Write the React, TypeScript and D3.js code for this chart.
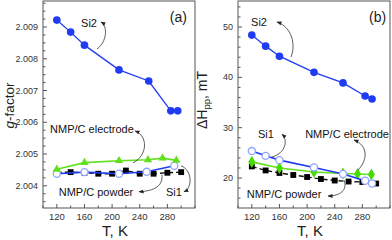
import * as d3 from 'd3';

const W = 392;
const H = 240;
const TOP = 1;
const BOTTOM = 208;
const FONT = 'Liberation Sans, Arial, sans-serif';

// temperature axis (both panels)
const tDomain = [100, 320];
const tMajor = [120, 160, 200, 240, 280];

// panel (a): g-factor
const si2T_a = [120, 140, 160, 210, 253, 285, 295];
const si2G = [2.00922, 2.00884, 2.00843, 2.00765, 2.0073, 2.00636, 2.00636];
const si1T_a = [120, 160, 210, 250, 290];
const si1G = [2.00438, 2.00443, 2.00438, 2.00444, 2.00463];
const elecT = [120, 160, 210, 252, 273, 293];
const elecG = [2.00452, 2.00473, 2.00479, 2.00482, 2.00487, 2.0048];
const powdT = [120, 140, 160, 180, 200, 220, 240, 260, 280, 300];
const powdG = [2.00442, 2.00443, 2.00441, 2.00438, 2.00438, 2.00448, 2.00438, 2.00438, 2.00441, 2.00443];
const gMajor = [2.004, 2.005, 2.006, 2.007, 2.008, 2.009];

// panel (b): ΔHpp, mT
const si2T_b = [120, 140, 160, 210, 252, 284, 294];
const si2H = [48.4, 46.2, 44.2, 41.0, 38.9, 36.3, 35.7];
const si1T_b = [120, 140, 160, 210, 252, 284, 294];
const si1H = [25.35, 24.4, 23.55, 22.1, 20.8, 19.45, 18.9];
const elecH = [23.2, 22.0, 21.2, 20.9, 20.8, 20.7];
const powdH = [22.3, 21.5, 21.0, 20.6, 20.2, 19.8, 19.5, 19.3, 19.2, 18.9];
const hMajor = [20, 30, 40, 50];

type Pt = [number, number];
type Series = {
  t: number[];
  v: number[];
  color: string;
  dash?: string;
  lw: number;
  symbol: d3.SymbolType;
  size: number;
  fill: string;
  stroke: string;
};
type Note = { text: string; at: Pt; path: Pt[] };

const blue = '#1f3cf2';
const green = '#62e01e';

function series(t: number[], v: number[], kind: string): Series {
  if (kind === 'si2') return { t, v, color: blue, lw: 1.3, symbol: d3.symbolCircle, size: 46, fill: blue, stroke: 'none' };
  if (kind === 'si1') return { t, v, color: blue, lw: 1.6, symbol: d3.symbolCircle, size: 40, fill: '#fff', stroke: '#8ea4ff' };
  if (kind === 'elecA') return { t, v, color: green, lw: 1.6, symbol: d3.symbolTriangle, size: 30, fill: green, stroke: 'none' };
  if (kind === 'elecB') return { t, v, color: green, lw: 1.6, symbol: d3.symbolDiamond, size: 42, fill: '#44dd00', stroke: 'none' };
  return { t, v, color: '#111', lw: 1.4, dash: '5,3', symbol: d3.symbolSquare, size: 34, fill: '#000', stroke: 'none' };
}

const seriesA = [
  series(powdT, powdG, 'powd'),
  series(si1T_a, si1G, 'si1'),
  series(elecT, elecG, 'elecA'),
  series(si2T_a, si2G, 'si2'),
];
const seriesB = [
  series(powdT, powdH, 'powd'),
  series(elecT, elecH, 'elecB'),
  series(si1T_b, si1H, 'si1'),
  series(si2T_b, si2H, 'si2'),
];

const notesA: Note[] = [
  { text: 'Si2', at: [166.6, 2.00913], path: [[178.2, 2.00831], [192.6, 2.00853], [194.1, 2.00903], [183.9, 2.00916]] },
  { text: 'NMP/C electrode', at: [170.9, 2.00579], path: [[230.3, 2.00472], [252, 2.00497], [252, 2.00557], [233.2, 2.00573]] },
  { text: 'NMP/C powder', at: [176.7, 2.00381], path: [[272.2, 2.00435], [273.7, 2.004], [262.1, 2.00384], [239, 2.00381]] },
  { text: 'Si1', at: [289.6, 2.00381], path: [[299.7, 2.00463], [315.7, 2.0045], [317.1, 2.00394], [304.1, 2.00381]] },
];
const notesB: Note[] = [
  { text: 'Si2', at: [130.4, 51], path: [[176.7, 44.04], [183.9, 46.42], [178.2, 50], [156.4, 51]] },
  { text: 'Si1', at: [140.5, 28.74], path: [[149.2, 24.17], [169.5, 24.96], [172.4, 27.55], [163.7, 28.74]] },
  { text: 'NMP/C electrode', at: [257.8, 28.74], path: [[273.7, 21.58], [288.2, 23.57], [288.2, 26.55], [267.9, 27.55]] },
  { text: 'NMP/C powder', at: [166.6, 16.82], path: [[253.4, 19.6], [259.2, 17.61], [247.6, 16.42], [230.3, 16.42]] },
];

type PanelProps = {
  x0: number;
  x1: number;
  yDomain: number[];
  yMajor: number[];
  yMinor: number;
  fmt: (v: number) => string;
  tag: string;
  tagAt: Pt;
  data: Series[];
  notes: Note[];
};

function Panel({ x0, x1, yDomain, yMajor, yMinor, fmt, tag, tagAt, data, notes }: PanelProps) {
  const x = d3.scaleLinear(tDomain, [x0, x1]);
  const y = d3.scaleLinear(yDomain, [BOTTOM, TOP]);
  const xMinor = d3.range(tDomain[0], tDomain[1] + 0.1, 20);
  const yMin = d3.range(Math.ceil(yDomain[0] / yMinor) * yMinor, yDomain[1], yMinor);
  const axisColor = '#555';

  return (
    <g>
      <rect x={x0} y={TOP} width={x1 - x0} height={BOTTOM - TOP} fill="none" stroke={axisColor} strokeWidth={1} />
      {xMinor.map((t) => {
        const major = tMajor.includes(t);
        return <line key={'xm' + t} x1={x(t)} x2={x(t)} y1={BOTTOM} y2={BOTTOM - (major ? 4 : 2.5)} stroke={axisColor} />;
      })}
      {yMin.map((v, i) => {
        const major = yMajor.some((m) => Math.abs(m - v) < yMinor / 10);
        return <line key={'ym' + i} x1={x0} x2={x0 + (major ? 4 : 2.5)} y1={y(v)} y2={y(v)} stroke={axisColor} />;
      })}
      {tMajor.map((t) => (
        <text key={'xl' + t} x={x(t)} y={BOTTOM + 11.5} textAnchor="middle" fontSize={9.5} fill="#333" fontFamily={FONT}>{t}</text>
      ))}
      {yMajor.map((v) => (
        <text key={'yl' + v} x={x0 - 5} y={y(v)} dy="0.35em" textAnchor="end" fontSize={9} fill="#333" fontFamily={FONT}>{fmt(v)}</text>
      ))}
      <text x={(x0 + x1) / 2 - 4} y={BOTTOM + 28} textAnchor="middle" fontSize={15} fill="#222" fontFamily={FONT}>T, K</text>
      <text x={x(tagAt[0])} y={y(tagAt[1])} dy="0.35em" textAnchor="middle" fontSize={14} fill="#222" fontFamily={FONT}>{tag}</text>

      {data.map((s, k) => {
        const line = d3.line<number>((_, i) => x(s.t[i]), (d) => y(d));
        const sym = d3.symbol().type(s.symbol).size(s.size)();
        return (
          <g key={'s' + k}>
            <path d={line(s.v) ?? ''} fill="none" stroke={s.color} strokeWidth={s.lw} strokeDasharray={s.dash} />
            {s.v.map((v, i) => (
              <path key={i} d={sym ?? ''} transform={`translate(${x(s.t[i])},${y(v)})`} fill={s.fill} stroke={s.stroke} strokeWidth={1.3} />
            ))}
          </g>
        );
      })}

      {notes.map((n, k) => {
        const p = n.path.map(([t, v]) => `${x(t)},${y(v)}`);
        return (
          <g key={'n' + k}>
            <path d={`M${p[0]}C${p[1]} ${p[2]} ${p[3]}`} fill="none" stroke="#333" strokeWidth={0.8} markerEnd="url(#ah)" />
            <text x={x(n.at[0])} y={y(n.at[1])} dy="0.35em" textAnchor="middle" fontSize={11} fill="#111" fontFamily={FONT}>{n.text}</text>
          </g>
        );
      })}
    </g>
  );
}

export default function App() {
  return (
    <svg width={W} height={H} style={{ position: 'absolute', left: 0, top: 0, background: '#fff' }}>
      <defs>
        <marker id="ah" viewBox="0 0 10 10" refX={9} refY={5} markerWidth={5} markerHeight={5} markerUnits="userSpaceOnUse" orient="auto">
          <path d="M0,1 L10,5 L0,9 z" fill="#222" />
        </marker>
      </defs>
      <Panel
        x0={43}
        x1={195}
        yDomain={[2.0033, 2.00982]}
        yMajor={gMajor}
        yMinor={0.00025}
        fmt={d3.format('.3f')}
        tag="(a)"
        tagAt={[296, 2.00932]}
        data={seriesA}
        notes={notesA}
      />
      <Panel
        x0={238}
        x1={390}
        yDomain={[14.04, 55.17]}
        yMajor={hMajor}
        yMinor={2}
        fmt={d3.format('d')}
        tag="(b)"
        tagAt={[302, 51.99]}
        data={seriesB}
        notes={notesB}
      />
      <text transform="translate(13.5,105.5) rotate(-90)" textAnchor="middle" fontSize={13.5} fill="#222" fontFamily={FONT}>
        <tspan fontStyle="italic">g</tspan>-factor
      </text>
      <text transform="translate(207,100) rotate(-90)" textAnchor="middle" fontSize={14} fill="#222" fontFamily={FONT}>
        ΔH<tspan fontSize={9.5} dy={3}>pp</tspan><tspan dy={-3}>, mT</tspan>
      </text>
    </svg>
  );
}
